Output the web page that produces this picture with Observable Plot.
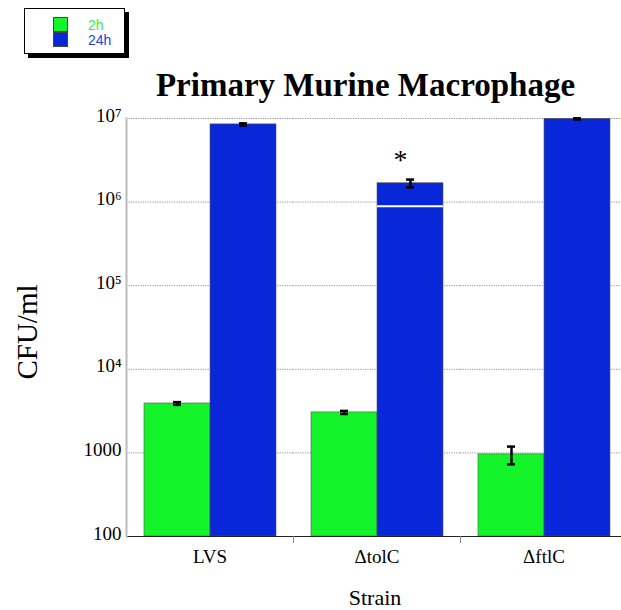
<!DOCTYPE html>
<html>
<head>
<meta charset="utf-8">
<script src="https://cdn.jsdelivr.net/npm/d3@7"></script>
<script src="https://cdn.jsdelivr.net/npm/@observablehq/plot@0.6"></script>
<style>
  html, body { margin: 0; padding: 0; background: #fff; overflow: hidden; }
  #wrap { position: relative; width: 621px; height: 610px; overflow: hidden; }
  #chart { position: absolute; left: 0; top: 0; width: 627px; }
  #chart svg { max-width: none !important; }
  .title { position: absolute; left: 118px; width: 495px; top: 67px; text-align: center;
           font-family: "Liberation Serif", "Times New Roman", serif; font-weight: bold; font-size: 33px; color: #000; white-space: nowrap; }
  .ylab { position: absolute; left: 27px; top: 332px; transform: translate(-50%, -50%) rotate(-90deg);
          font-family: "Liberation Serif", serif; font-size: 29px; white-space: nowrap; }
  .xlab { position: absolute; left: 375px; top: 598px; transform: translate(-50%, -50%);
          font-family: "Liberation Serif", serif; font-size: 22px; white-space: nowrap; }
  .legend { position: absolute; left: 24px; top: 8px; width: 99px; height: 44px; border: 1.5px solid #000;
            background: #fff; box-shadow: 4px 4px 0 #000; }
  .sw { position: absolute; left: 28px; width: 15px; height: 15px; border: 1px solid #444; box-sizing: border-box; }
  .lt { position: absolute; left: 63px; font-family: "Liberation Sans", Arial, sans-serif; font-size: 14px; line-height: 14px; }
</style>
</head>
<body>
<div id="wrap">
  <div id="chart"></div>
  <div class="title">Primary Murine Macrophage</div>
  <div class="ylab">CFU/ml</div>
  <div class="xlab">Strain</div>
  <div class="legend" id="legend"></div>
</div>
<script>
const strains = ["LVS", "ΔtolC", "ΔftlC"];
const times = ["2h", "24h"];
const cfu2h = [3900, 3050, 960];
const err2h = [150, 130, 230];
const cfu24h = [8.5e6, 1.68e6, 9.9e6];
const err24h = [2.5e5, 1.8e5, 1.5e5];
const yTicks = [100, 1000, 1e4, 1e5, 1e6, 1e7];
const yTickLabels = ["100", "1000", "10⁴", "10⁵", "10⁶", "10⁷"];
const significant = ["ΔtolC"];          // * on 24h bar
const breakLines = [{strain: "ΔtolC", time: "24h", value: 8.9e5}];
const colors = {"2h": "#13f52a", "24h": "#0827d9"};
const legendText = {"2h": "#33ee44", "24h": "#2244dd"};

const rows = strains.flatMap((s, i) => [
  {strain: s, time: "2h", value: cfu2h[i], err: err2h[i]},
  {strain: s, time: "24h", value: cfu24h[i], err: err24h[i]}
]);
const sigRows = rows.filter(d => d.time === "24h" && significant.includes(d.strain));

const serif = "Liberation Serif, Times New Roman, serif";

const chart = Plot.plot({
  width: 627,
  height: 610,
  marginLeft: 126,
  marginRight: 0,
  marginTop: 118,
  marginBottom: 74,
  style: {background: "transparent", overflow: "visible", maxWidth: "none"},
  fx: {domain: strains, padding: 0, label: null},
  x: {domain: times, paddingInner: 0, paddingOuter: 0.256, axis: null},
  y: {type: "log", domain: [yTicks[0], yTicks[yTicks.length - 1]], axis: null},
  color: {domain: times, range: times.map(t => colors[t])},
  marks: [
    Plot.ruleY(yTicks.slice(1), {stroke: "#777", strokeWidth: 0.8, strokeDasharray: "1.2,1.2"}),
    Plot.barY(rows, {fx: "strain", x: "time", y1: yTicks[0], y2: "value", fill: "time", stroke: "#555", strokeWidth: 0.6}),
    Plot.tickY(breakLines, {fx: "strain", x: "time", y: "value", stroke: "#fff", strokeWidth: 2}),
    Plot.ruleX(rows, {fx: "strain", x: "time", y1: d => d.value - d.err, y2: d => d.value + d.err, stroke: "#000", strokeWidth: 2.5}),
    Plot.tickY(rows, {fx: "strain", x: "time", y: d => d.value + d.err, insetLeft: 29, insetRight: 29, stroke: "#000", strokeWidth: 2.5}),
    Plot.tickY(rows, {fx: "strain", x: "time", y: d => d.value - d.err, insetLeft: 29, insetRight: 29, stroke: "#000", strokeWidth: 2.5}),
    Plot.text(sigRows, {fx: "strain", x: "time", y: d => d.value + d.err, text: () => "*", dx: -10, dy: -20, fontSize: 28, fontFamily: serif, fill: "#000"}),
    Plot.ruleY([yTicks[0]], {stroke: "#222", strokeWidth: 1}),
    Plot.frame({anchor: "left", fx: [strains[0]], stroke: "#bbb", strokeWidth: 2}),
    ...strains.slice(1).map(s => Plot.frame({anchor: "left", fx: [s], stroke: "#888", insetTop: 418, insetBottom: -6})),
    Plot.axisY(yTicks, {anchor: "left", tickSize: 0, tickPadding: 5, dy: -3, tickFormat: (d) => yTickLabels[yTicks.indexOf(d)],
      fontSize: 19, fontFamily: serif, fill: "#000", label: null}),
    Plot.axisFx({anchor: "bottom", tickSize: 0, tickPadding: 13, fontSize: 19, fontFamily: serif, fill: "#000", label: null})
  ]
});
document.getElementById("chart").appendChild(chart);

const legend = document.getElementById("legend");
times.forEach((t, i) => {
  const sw = document.createElement("div");
  sw.className = "sw";
  sw.style.top = (8 + i * 15) + "px";
  sw.style.background = colors[t];
  legend.appendChild(sw);
  const lt = document.createElement("div");
  lt.className = "lt";
  lt.style.top = (9 + i * 15) + "px";
  lt.style.color = legendText[t];
  lt.textContent = t;
  legend.appendChild(lt);
});
</script>
</body>
</html>
